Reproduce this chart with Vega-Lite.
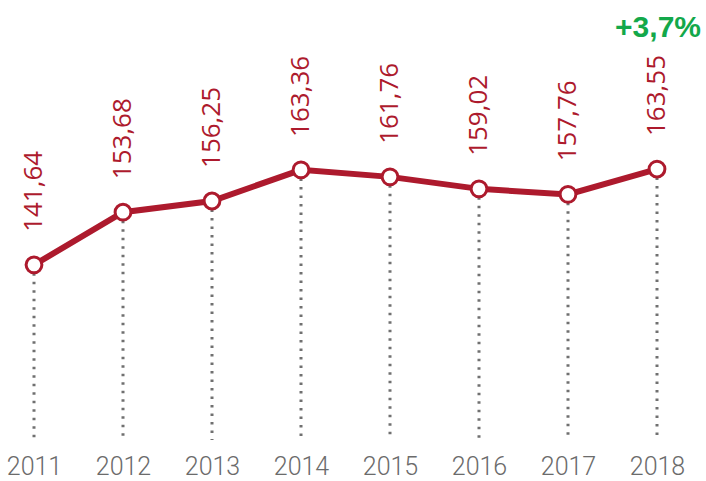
{
  "$schema": "https://vega.github.io/schema/vega-lite/v6.json",
  "width": 706,
  "height": 440,
  "padding": {"left": 0, "top": 0, "right": 0, "bottom": 41},
  "autosize": {"type": "none"},
  "background": "white",
  "config": {"view": {"stroke": null}},
  "data": {"values": [
    {"year": "2011", "value": 141.64, "label": "141,64"},
    {"year": "2012", "value": 153.68, "label": "153,68"},
    {"year": "2013", "value": 156.25, "label": "156,25"},
    {"year": "2014", "value": 163.36, "label": "163,36"},
    {"year": "2015", "value": 161.76, "label": "161,76"},
    {"year": "2016", "value": 159.02, "label": "159,02"},
    {"year": "2017", "value": 157.76, "label": "157,76"},
    {"year": "2018", "value": 163.55, "label": "163,55"}
  ]},
  "encoding": {
    "x": {"field": "year", "type": "ordinal", "scale": {"type": "point", "range": [34, 657], "padding": 0},
      "axis": {"title": null, "domain": false, "ticks": false, "labelAngle": 0, "labelFontSize": 25, "labelFont": "Roboto", "labelFontWeight": 300, "labelColor": "#6b6b6b", "labelPadding": 14}},
    "y": {"field": "value", "type": "quantitative", "scale": {"domain": [101.6, 202.2], "nice": false, "zero": false}, "axis": null}
  },
  "layer": [
    {"mark": {"type": "rule", "color": "#707070", "strokeWidth": 3, "strokeDash": [2.5, 6]},
      "encoding": {"y2": {"datum": 101.6}}},
    {"mark": {"type": "line", "color": "#ad1a2d", "strokeWidth": 6}},
    {"mark": {"type": "point", "filled": true, "fill": "white", "stroke": "#ad1a2d", "strokeWidth": 3, "size": 250, "opacity": 1}},
    {"mark": {"type": "text", "angle": 270, "align": "left", "baseline": "middle", "dx": 33, "fontSize": 26, "font": "Open Sans", "color": "#ad1a2d"},
      "encoding": {"text": {"field": "label"}}},
    {"transform": [{"filter": "datum.year == '2018'"}],
      "mark": {"type": "text", "align": "right", "baseline": "middle", "fontSize": 30, "fontWeight": "bold", "font": "Liberation Sans", "color": "#13a84a", "dx": 44},
      "encoding": {"y": {"datum": 195.8}, "text": {"value": "+3,7%"}}}
  ]
}
